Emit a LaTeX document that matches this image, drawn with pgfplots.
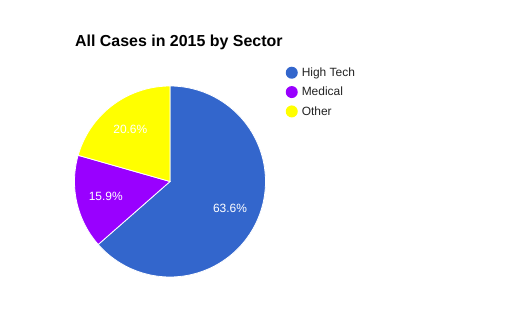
\documentclass[border=0pt]{standalone}
\usepackage{pgfplots}
\pgfplotsset{compat=1.18}
\usepackage{pgfplotstable}
\usepackage{fontspec}
\setmainfont{Liberation Sans}
\definecolor{cHigh}{HTML}{3366CC}
\definecolor{cMed}{HTML}{9900FF}
\definecolor{cOther}{HTML}{FFFF00}
\definecolor{legtext}{HTML}{222222}

\pgfplotstableread[col sep=comma]{
sector,value
High Tech,63.6
Medical,15.9
Other,20.6
}\piedata

\pgfplotstablegetelem{0}{value}\of\piedata \let\va\pgfplotsretval
\pgfplotstablegetelem{1}{value}\of\piedata \let\vb\pgfplotsretval
\pgfplotstablegetelem{2}{value}\of\piedata \let\vc\pgfplotsretval
\pgfmathsetmacro\total{\va+\vb+\vc}
\pgfmathsetmacro\azero{90}
\pgfmathsetmacro\aone{90-\va/\total*360}
\pgfmathsetmacro\atwo{\aone-\vb/\total*360}
\pgfmathsetmacro\athree{-270}
\pgfmathsetmacro\ma{(\azero+\aone)/2}
\pgfmathsetmacro\mb{(\aone+\atwo)/2}
\pgfmathsetmacro\mc{(\atwo+\athree)/2}
\pgfmathsetmacro\lr{0.69}

\begin{document}
\begin{tikzpicture}
\path (0,0) rectangle (522bp,330bp);
\node[anchor=base west, inner sep=0pt, font=\bfseries\fontsize{16}{19}\selectfont] at (75bp,283.5bp) {All Cases in 2015 by Sector};
\begin{axis}[
  at={(170bp,148.5bp)}, anchor=origin,
  x=95.5bp, y=95.5bp,
  xmin=-1, xmax=1, ymin=-1, ymax=1,
  hide axis, clip=false,
  legend style={at={(axis cs:1.21,1.215)}, anchor=north west, draw=none, fill=none,
    font=\fontsize{12}{14}\selectfont\color{legtext}, row sep=5.2bp, inner sep=0pt, cells={anchor=west},
    /tikz/every odd column/.append style={column sep=2bp}},
  legend image code/.code={\draw[#1, draw=none] (4bp,0bp) circle (6bp);},
]
\addplot[fill=cHigh, draw=white, line width=0.8bp, domain=\aone:\azero, samples=90, variable=\t] ({cos(\t)},{sin(\t)}) -- (0,0) -- cycle;
\addlegendentry{High Tech}
\addplot[fill=cMed, draw=white, line width=0.8bp, domain=\atwo:\aone, samples=40, variable=\t] ({cos(\t)},{sin(\t)}) -- (0,0) -- cycle;
\addlegendentry{Medical}
\addplot[fill=cOther, draw=white, line width=0.8bp, domain=\athree:\atwo, samples=40, variable=\t] ({cos(\t)},{sin(\t)}) -- (0,0) -- cycle;
\addlegendentry{Other}
\node[text=white, font=\fontsize{12}{14}\selectfont] at (axis cs:{\lr*cos(\ma)},{\lr*sin(\ma)}) {63.6\%};
\node[text=white, font=\fontsize{12}{14}\selectfont] at (axis cs:{\lr*cos(\mb)},{\lr*sin(\mb)}) {15.9\%};
\node[text=white, font=\fontsize{12}{14}\selectfont] at (axis cs:{\lr*cos(\mc)},{\lr*sin(\mc)}) {20.6\%};
\end{axis}
\end{tikzpicture}
\end{document}
